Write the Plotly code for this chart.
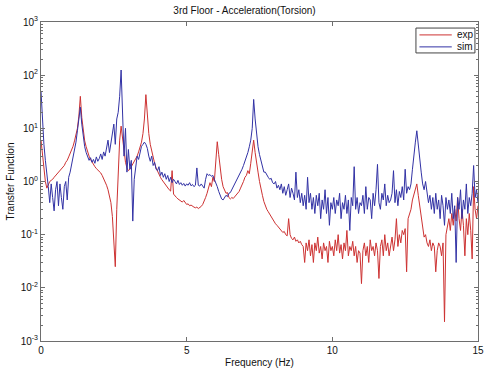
import numpy as np
import plotly.graph_objects as go

# Frequency grid (Hz), 0.05 Hz resolution
freq = np.round(np.arange(0, 301) * 0.05, 2)

# Measured transfer function (exp)
exp_vals = [
    6, 3, 1.5, 1.0, 0.75, 0.9, 1.0, 1.05, 1.1, 1.2, 1.3, 1.35, 1.45, 1.6, 1.7, 1.85, 2.0, 2.3, 2.5, 2.9,
    3.3, 3.9, 4.6, 5.8, 7.5, 10, 17, 40, 16, 8.5, 5.8, 4.5, 3.6, 3.0, 2.6, 2.3, 2.1, 1.9, 1.75, 1.65,
    1.55, 1.45, 1.3, 1.15, 1.0, 0.85, 0.7, 0.55, 0.4, 0.22, 0.08, 0.025, 0.3, 2.0, 6, 11, 6, 3.5, 2.3, 1.8,
    1.6, 1.7, 1.9, 2.1, 2.3, 2.6, 3.0, 3.6, 4.3, 5.5, 8, 15, 43, 18, 8, 5, 3.6, 2.7, 2.2, 1.8,
    1.55, 1.35, 1.2, 1.08, 0.98, 0.9, 0.82, 0.75, 0.7, 0.66, 1.6, 0.58, 0.55, 0.5, 0.47, 0.45, 0.43, 0.41, 0.44, 0.4,
    0.37, 0.38, 0.35, 0.36, 0.34, 0.33, 0.32, 0.33, 0.31, 0.32, 0.34, 0.37, 0.42, 0.5, 0.6, 0.75, 0.95, 0.8, 1.2, 1.0,
    2.5, 5.6, 3.2, 1.8, 1.1, 0.8, 0.7, 0.6, 0.62, 0.5, 0.47, 0.5, 0.48, 0.52, 0.55, 0.6, 0.65, 0.75, 0.85, 1.0,
    1.2, 1.3, 1.6, 1.4, 2.2, 3.8, 6.0, 3.5, 2.0, 1.5, 1.0, 0.7, 0.55, 0.42, 0.35, 0.3, 0.27, 0.24, 0.22, 0.2,
    0.18, 0.16, 0.15, 0.14, 0.13, 0.12, 0.11, 0.115, 0.1, 0.095, 0.2, 0.1, 0.085, 0.08, 0.09, 0.075, 0.08, 0.07, 0.075, 0.065,
    0.06, 0.03, 0.07, 0.05, 0.08, 0.04, 0.065, 0.03, 0.07, 0.05, 0.09, 0.045, 0.06, 0.035, 0.07, 0.05, 0.06, 0.03, 0.075, 0.05,
    0.06, 0.04, 0.08, 0.05, 0.1, 0.045, 0.065, 0.035, 0.07, 0.05, 0.12, 0.04, 0.06, 0.05, 0.075, 0.04, 0.06, 0.03, 0.05, 0.045,
    0.012, 0.05, 0.07, 0.04, 0.06, 0.03, 0.08, 0.05, 0.06, 0.04, 0.07, 0.05, 0.015, 0.06, 0.08, 0.04, 0.1, 0.05, 0.07, 0.04,
    0.06, 0.09, 0.05, 0.08, 0.2, 0.06, 0.1, 0.07, 0.12, 0.1, 0.13, 0.02, 0.2, 0.25, 0.3, 0.45, 0.55, 0.7, 0.9, 0.55,
    0.35, 0.2, 0.12, 0.09, 0.1, 0.07, 0.06, 0.08, 0.05, 0.07, 0.06, 0.02, 0.05, 0.07, 0.06, 0.04, 0.07, 0.0023, 0.1, 0.15,
    0.2, 0.12, 0.25, 0.15, 0.3, 0.18, 0.5, 0.2, 0.12, 0.3, 0.15, 0.04, 0.2, 0.1, 0.25, 0.12, 0.035, 0.8, 0.3, 0.2,
    0.35,
]

# Simulated transfer function (sim)
sim_vals = [
    50, 12, 5, 2.5, 1.5, 0.8, 0.4, 0.9, 0.5, 0.28, 0.7, 1.0, 0.35, 0.9, 0.5, 0.3, 0.8, 1.0, 0.45, 1.2,
    1.5, 2.0, 2.8, 3.8, 5.5, 9, 14, 25, 12, 6.5, 4.5, 3.5, 2.8, 2.5, 2.8, 2.3, 2.6, 2.2, 2.9, 2.4,
    2.7, 3.3, 2.6, 3.6, 3.0, 4.5, 6, 3.5, 5, 8, 12, 5, 15, 20, 40, 125, 12, 3, 10, 1.5,
    4, 1.7, 2.5, 0.18, 1.1, 1.7, 3.0, 2.6, 3.5, 4.6, 5.0, 5.5, 5.0, 4.2, 3.0, 2.4, 3.0, 2.0, 2.3, 1.7,
    1.6, 1.9, 1.3, 1.5, 1.2, 1.4, 1.1, 1.3, 1.0, 1.2, 0.95, 1.1, 1.0, 0.9, 1.05, 0.88, 0.95, 0.85, 0.92, 0.82,
    0.9, 0.85, 0.95, 0.83, 0.88, 0.8, 0.85, 1.8, 0.85, 0.82, 0.9, 0.8, 0.75, 1.1, 1.4, 1.3, 1.35, 1.25, 1.3, 1.1,
    0.95, 0.8, 0.65, 0.55, 0.47, 0.45, 0.5, 0.55, 0.52, 0.6, 0.62, 0.7, 0.8, 0.9, 1.0, 1.2, 1.35, 1.5, 1.7, 2.0,
    2.4, 2.8, 3.5, 4.5, 6, 10, 35, 15, 7, 4.5, 3.2, 2.5, 2.0, 1.5, 1.5, 1.3, 1.2, 1.1, 1.15, 0.95,
    0.9, 1.0, 0.75, 0.85, 0.7, 0.9, 0.6, 0.8, 0.55, 0.7, 0.9, 0.5, 0.75, 0.6, 0.45, 1.5, 0.5, 0.7, 0.4, 0.6,
    0.35, 0.55, 0.3, 1.2, 0.4, 0.6, 0.3, 0.5, 0.25, 0.55, 0.35, 0.6, 0.2, 0.45, 0.3, 0.7, 0.25, 0.5, 0.15, 0.4,
    0.3, 0.5, 0.25, 0.45, 0.35, 0.6, 0.2, 0.4, 0.3, 0.55, 0.25, 0.45, 0.12, 0.5, 0.35, 1.9, 0.3, 0.5, 0.25, 0.4,
    0.35, 0.55, 0.25, 0.8, 0.3, 0.5, 0.45, 0.2, 0.6, 0.35, 0.7, 2.1, 0.4, 0.3, 0.6, 0.45, 0.9, 0.35, 0.55, 0.4,
    0.45, 0.6, 1.6, 0.4, 0.7, 0.35, 0.65, 0.5, 0.8, 0.45, 1.7, 0.6, 0.8, 0.7, 0.9, 1.7, 3.5, 5.5, 9, 4.6,
    2.6, 1.5, 0.9, 0.7, 1.0, 0.6, 0.4, 0.55, 0.3, 0.5, 0.25, 0.6, 0.3, 0.45, 0.2, 0.55, 0.35, 0.15, 0.5, 0.3,
    0.45, 0.25, 0.6, 0.2, 0.35, 0.03, 0.5, 0.3, 0.7, 0.2, 0.45, 0.3, 0.9, 0.25, 0.5, 0.35, 0.6, 2.0, 0.5, 0.7,
    0.4,
]

series_names = ["exp", "sim"]
series_colors = ["rgb(205,50,50)", "rgb(50,50,165)"]

y_tick_vals = [1e-3, 1e-2, 1e-1, 1e0, 1e1, 1e2, 1e3]
y_tick_text = ["10<sup>-3</sup>", "10<sup>-2</sup>", "10<sup>-1</sup>", "10<sup>0</sup>",
               "10<sup>1</sup>", "10<sup>2</sup>", "10<sup>3</sup>"]
x_tick_vals = [0, 5, 10, 15]

minor_vals = [m * d for d in [1e-3, 1e-2, 1e-1, 1e0, 1e1, 1e2] for m in range(2, 10)]

FONT = "Arial, Liberation Sans, sans-serif"
AX = "#6e6e6e"

fig = go.Figure()
for name, vals, col in zip(series_names, [exp_vals, sim_vals], series_colors):
    fig.add_trace(go.Scatter(x=freq, y=vals, mode="lines", name=name,
                             line=dict(color=col, width=1), showlegend=False))

# Compact MATLAB-style legend box (paper coordinates)
shapes = [dict(type="rect", xref="paper", yref="paper", x0=0.858, x1=0.993, y0=0.903, y1=0.981,
               line=dict(color="#444", width=1), fillcolor="white", layer="above")]
annotations = []
legend_rows_y = [0.9595, 0.922]
for name, col, ly in zip(series_names, series_colors, legend_rows_y):
    shapes.append(dict(type="line", xref="paper", yref="paper", x0=0.866, x1=0.940, y0=ly, y1=ly,
                       line=dict(color=col, width=1), layer="above"))
    annotations.append(dict(text=name, xref="paper", yref="paper", x=0.948, y=ly,
                            xanchor="left", yanchor="middle", showarrow=False,
                            font=dict(size=10, family=FONT, color="#111")))

fig.update_layout(
    width=489, height=371,
    margin=dict(l=41, r=5, t=22, b=28),
    paper_bgcolor="white", plot_bgcolor="white",
    font=dict(family=FONT, size=10, color="#111"),
    title=dict(text="3rd Floor - Acceleration(Torsion)", x=0.5, xanchor="center",
               y=1 - 10 / 371, yanchor="middle", font=dict(size=10, family=FONT, color="#111")),
    showlegend=False,
    shapes=shapes,
    annotations=annotations,
)
fig.update_xaxes(range=[0, 15], tickvals=x_tick_vals, ticks="inside", ticklen=4,
                 showline=True, linecolor=AX, linewidth=1, mirror="ticks",
                 tickcolor=AX, showgrid=False, zeroline=False,
                 title=dict(text="Frequency (Hz)", standoff=3, font=dict(size=10)),
                 tickfont=dict(size=10))
fig.update_yaxes(type="log", range=[-3, 3], tickvals=y_tick_vals, ticktext=y_tick_text,
                 ticks="inside", ticklen=4, showline=True, linecolor=AX, linewidth=1,
                 mirror="ticks", tickcolor=AX, showgrid=False, zeroline=False,
                 minor=dict(tickvals=minor_vals, ticks="inside", ticklen=2, tickcolor=AX, showgrid=False),
                 title=dict(text="Transfer Function", standoff=4, font=dict(size=10)),
                 tickfont=dict(size=10))

fig.write_html("out.html")
